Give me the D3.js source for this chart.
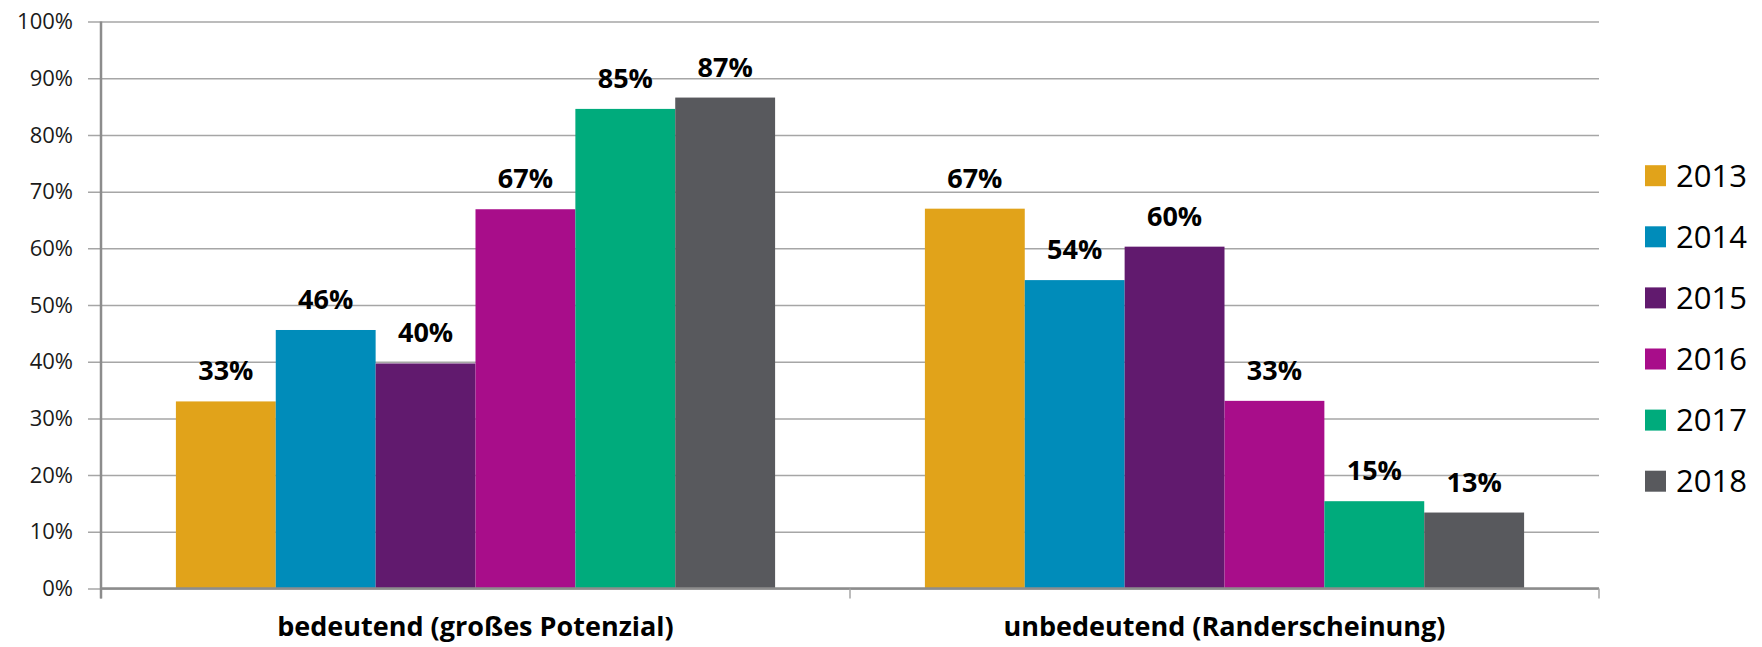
<!DOCTYPE html>
<html>
<head>
<meta charset="utf-8">
<script src="https://cdn.jsdelivr.net/npm/d3@7"></script>
<style>
    body { margin: 0; background: #fff; }
    svg { display: block; font-family: "Open Sans", "Liberation Sans", sans-serif; }
</style>
</head>
<body>
<div class="chart"></div>
<script>
// data
let categories = ["bedeutend (großes Potenzial)", "unbedeutend (Randerscheinung)"];
let years = ["2013", "2014", "2015", "2016", "2017", "2018"];
let bedeutend = [33.0, 45.6, 39.7, 66.9, 84.6, 86.6];
let unbedeutend = [67.0, 54.4, 60.3, 33.1, 15.4, 13.4];
let yTicks = [0, 10, 20, 30, 40, 50, 60, 70, 80, 90, 100];
let colors = ["#e1a31a", "#008cba", "#611a6e", "#a80d8a", "#00ab7c", "#58595d"];

let seriesByCat = [bedeutend, unbedeutend];

let width = 1762, height = 647;
let plot = { left: 101, right: 1599, top: 21.6, bottom: 588.5 };

let svg = d3.select('.chart')
    .append('svg')
    .attr('width', width)
    .attr('height', height);

// scales
let x0 = d3.scaleBand().domain(categories).range([plot.left, plot.right]).padding(0);
let x1 = d3.scaleBand().domain(years).range([0, x0.bandwidth()]).paddingInner(0).paddingOuter(0.75);
let y = d3.scaleLinear().domain([0, 100]).range([plot.bottom, plot.top]);
let color = d3.scaleOrdinal().domain(years).range(colors);

// gridlines + y axis
let yAxis = d3.axisLeft(y)
    .tickValues(yTicks)
    .tickSize(-(plot.right - plot.left))
    .tickSizeOuter(0)
    .tickPadding(28)
    .tickFormat(d => d + "%");

let gy = svg.append('g')
    .attr('transform', 'translate(' + plot.left + ',0)')
    .call(yAxis);
gy.select('.domain').remove();
gy.selectAll('.tick line')
    .attr('x1', -13)
    .attr('stroke', '#a6a6a6')
    .attr('stroke-width', 1.5);
gy.selectAll('.tick text')
    .attr('font-size', 22)
    .attr('fill', '#1a1a1a')
    .attr('font-family', '"Open Sans", sans-serif');

// bars
let rows = [];
categories.forEach((c, ci) => {
    years.forEach((yr, i) => {
        rows.push({ cat: c, year: yr, value: seriesByCat[ci][i] });
    });
});

svg.append('g').selectAll('rect')
    .data(rows)
    .enter().append('rect')
    .attr('x', d => x0(d.cat) + x1(d.year))
    .attr('width', x1.bandwidth())
    .attr('y', d => y(d.value))
    .attr('height', d => y(0) - y(d.value))
    .attr('fill', d => color(d.year));

// value labels
let fmt = d3.format(".0f");
svg.append('g').selectAll('text')
    .data(rows)
    .enter().append('text')
    .attr('x', d => x0(d.cat) + x1(d.year) + x1.bandwidth() / 2)
    .attr('y', d => y(d.value) - 21)
    .attr('text-anchor', 'middle')
    .attr('font-size', 27)
    .attr('font-weight', 'bold')
    .attr('fill', '#000')
    .text(d => fmt(d.value) + "%");

// x axis
let xAxis = d3.axisBottom(x0).tickSize(0).tickPadding(28);
let gx = svg.append('g')
    .attr('transform', 'translate(0,' + plot.bottom + ')')
    .call(xAxis);
gx.select('.domain').attr('stroke', '#8c8c8c').attr('stroke-width', 2.5)
    .attr('d', 'M' + plot.left + ',0H' + plot.right);
gx.selectAll('.tick text')
    .attr('font-size', 27)
    .attr('font-weight', 'bold')
    .attr('fill', '#000')
    .attr('font-family', '"Open Sans", sans-serif');

// category separator ticks
let sepX = [plot.left].concat(categories.map(c => x0(c) + x0.bandwidth()));
gx.selectAll('line.sep')
    .data(sepX)
    .enter().append('line')
    .attr('class', 'sep')
    .attr('x1', d => d).attr('x2', d => d)
    .attr('y1', 0).attr('y2', 10)
    .attr('stroke', '#a6a6a6')
    .attr('stroke-width', 1.5);

// y axis line
svg.append('line')
    .attr('x1', plot.left).attr('x2', plot.left)
    .attr('y1', plot.top).attr('y2', plot.bottom + 10)
    .attr('stroke', '#8c8c8c')
    .attr('stroke-width', 2.5);

// legend
let legend = svg.append('g')
    .attr('transform', 'translate(1645,175.7)');
let li = legend.selectAll('g')
    .data(years)
    .enter().append('g')
    .attr('transform', (d, i) => 'translate(0,' + (i * 61.1) + ')');
li.append('rect')
    .attr('x', 0).attr('y', -10.5)
    .attr('width', 21).attr('height', 21)
    .attr('fill', d => color(d));
li.append('text')
    .attr('x', 31)
    .attr('dy', '0.35em')
    .attr('font-size', 31)
    .attr('fill', '#000')
    .text(d => d);
</script>
</body>
</html>
